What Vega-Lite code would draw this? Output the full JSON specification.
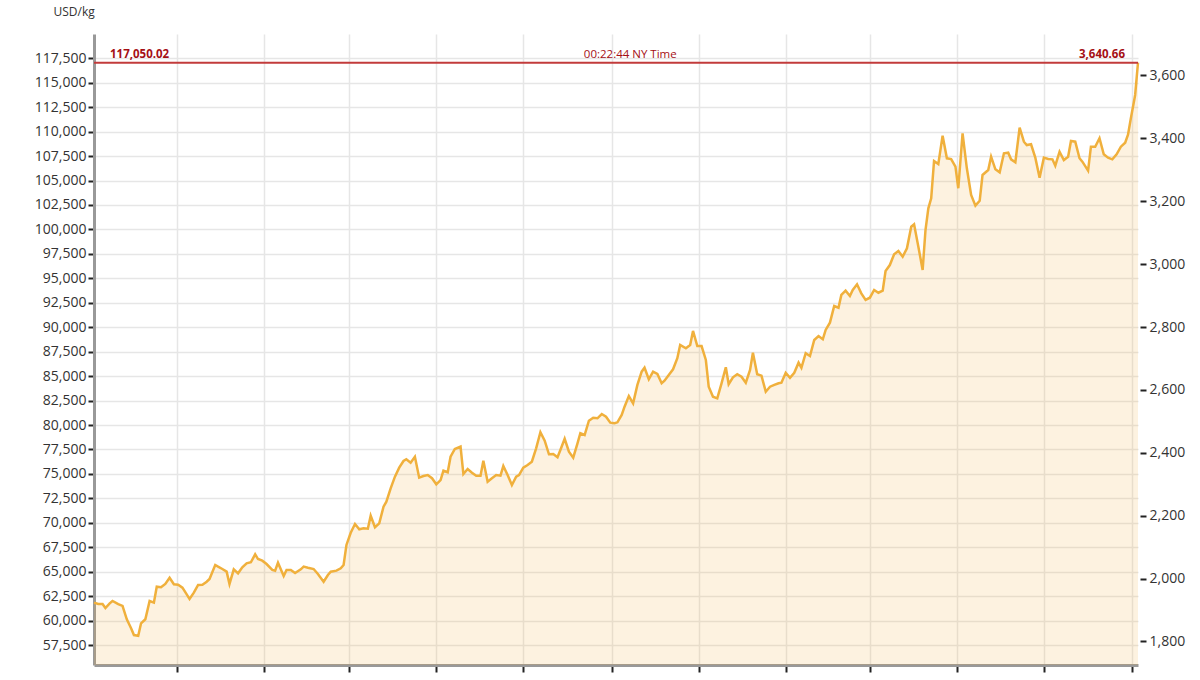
{
  "$schema": "https://vega.github.io/schema/vega-lite/v6.json",
  "width": 1044,
  "height": 631,
  "autosize": {"type": "none"},
  "padding": {"left": 94, "top": 34, "right": 62, "bottom": 15},
  "background": "white",
  "config": {
    "view": {"stroke": null},
    "font": "Open Sans",
    "axis": {"labelFont": "Open Sans", "titleFont": "Open Sans"}
  },
  "datasets": {
    "gold": [
      {"date": "2023-09-04", "price": 61840}, {"date": "2023-09-07", "price": 61700}, {"date": "2023-09-10", "price": 61700},
      {"date": "2023-09-12", "price": 61290}, {"date": "2023-09-15", "price": 61770}, {"date": "2023-09-17", "price": 62010},
      {"date": "2023-09-21", "price": 61700}, {"date": "2023-09-24", "price": 61500}, {"date": "2023-09-27", "price": 60140},
      {"date": "2023-09-30", "price": 59220}, {"date": "2023-10-02", "price": 58530}, {"date": "2023-10-05", "price": 58460},
      {"date": "2023-10-07", "price": 59730}, {"date": "2023-10-10", "price": 60140}, {"date": "2023-10-13", "price": 62010},
      {"date": "2023-10-16", "price": 61840}, {"date": "2023-10-18", "price": 63470}, {"date": "2023-10-21", "price": 63410},
      {"date": "2023-10-24", "price": 63750}, {"date": "2023-10-27", "price": 64390}, {"date": "2023-10-30", "price": 63720},
      {"date": "2023-11-02", "price": 63680}, {"date": "2023-11-05", "price": 63370}, {"date": "2023-11-08", "price": 62690},
      {"date": "2023-11-10", "price": 62210}, {"date": "2023-11-13", "price": 62860}, {"date": "2023-11-16", "price": 63650},
      {"date": "2023-11-19", "price": 63680}, {"date": "2023-11-22", "price": 63980}, {"date": "2023-11-24", "price": 64260},
      {"date": "2023-11-28", "price": 65690}, {"date": "2023-11-30", "price": 65520}, {"date": "2023-12-03", "price": 65280},
      {"date": "2023-12-06", "price": 65010}, {"date": "2023-12-08", "price": 63750}, {"date": "2023-12-11", "price": 65250},
      {"date": "2023-12-14", "price": 64840}, {"date": "2023-12-17", "price": 65460}, {"date": "2023-12-20", "price": 65860},
      {"date": "2023-12-23", "price": 65970}, {"date": "2023-12-26", "price": 66780}, {"date": "2023-12-28", "price": 66300},
      {"date": "2023-12-31", "price": 66130}, {"date": "2024-01-03", "price": 65790}, {"date": "2024-01-07", "price": 65180},
      {"date": "2024-01-09", "price": 65110}, {"date": "2024-01-11", "price": 65930}, {"date": "2024-01-15", "price": 64570},
      {"date": "2024-01-17", "price": 65180}, {"date": "2024-01-20", "price": 65180}, {"date": "2024-01-23", "price": 64870},
      {"date": "2024-01-27", "price": 65250}, {"date": "2024-01-29", "price": 65520}, {"date": "2024-02-01", "price": 65410},
      {"date": "2024-02-05", "price": 65280}, {"date": "2024-02-08", "price": 64770}, {"date": "2024-02-12", "price": 63980},
      {"date": "2024-02-15", "price": 64670}, {"date": "2024-02-17", "price": 65010}, {"date": "2024-02-21", "price": 65110},
      {"date": "2024-02-24", "price": 65350}, {"date": "2024-02-26", "price": 65690}, {"date": "2024-02-28", "price": 67740},
      {"date": "2024-03-02", "price": 68990}, {"date": "2024-03-05", "price": 69880}, {"date": "2024-03-08", "price": 69340},
      {"date": "2024-03-11", "price": 69440}, {"date": "2024-03-14", "price": 69400}, {"date": "2024-03-16", "price": 70730},
      {"date": "2024-03-19", "price": 69550}, {"date": "2024-03-22", "price": 69950}, {"date": "2024-03-25", "price": 71650},
      {"date": "2024-03-27", "price": 72160}, {"date": "2024-03-30", "price": 73530}, {"date": "2024-04-02", "price": 74720},
      {"date": "2024-04-05", "price": 75640}, {"date": "2024-04-08", "price": 76320}, {"date": "2024-04-10", "price": 76500},
      {"date": "2024-04-13", "price": 76150}, {"date": "2024-04-16", "price": 76760}, {"date": "2024-04-19", "price": 74620},
      {"date": "2024-04-22", "price": 74790}, {"date": "2024-04-25", "price": 74890}, {"date": "2024-04-28", "price": 74560},
      {"date": "2024-05-01", "price": 73940}, {"date": "2024-05-04", "price": 74380}, {"date": "2024-05-06", "price": 75330},
      {"date": "2024-05-09", "price": 75170}, {"date": "2024-05-11", "price": 76760}, {"date": "2024-05-14", "price": 77550},
      {"date": "2024-05-18", "price": 77790}, {"date": "2024-05-20", "price": 74990}, {"date": "2024-05-23", "price": 75500},
      {"date": "2024-05-26", "price": 75130}, {"date": "2024-05-29", "price": 74820}, {"date": "2024-06-01", "price": 74820},
      {"date": "2024-06-03", "price": 76350}, {"date": "2024-06-06", "price": 74210}, {"date": "2024-06-09", "price": 74560},
      {"date": "2024-06-12", "price": 74890}, {"date": "2024-06-15", "price": 74820}, {"date": "2024-06-17", "price": 75810},
      {"date": "2024-06-20", "price": 74890}, {"date": "2024-06-23", "price": 73870}, {"date": "2024-06-26", "price": 74720},
      {"date": "2024-06-28", "price": 74890}, {"date": "2024-07-01", "price": 75640}, {"date": "2024-07-04", "price": 75920},
      {"date": "2024-07-07", "price": 76250}, {"date": "2024-07-10", "price": 77620}, {"date": "2024-07-13", "price": 79260},
      {"date": "2024-07-16", "price": 78400}, {"date": "2024-07-19", "price": 77010}, {"date": "2024-07-22", "price": 77040},
      {"date": "2024-07-25", "price": 76700}, {"date": "2024-07-27", "price": 77450}, {"date": "2024-07-30", "price": 78600},
      {"date": "2024-08-02", "price": 77270}, {"date": "2024-08-05", "price": 76660}, {"date": "2024-08-08", "price": 78130},
      {"date": "2024-08-10", "price": 79160}, {"date": "2024-08-13", "price": 78980}, {"date": "2024-08-16", "price": 80440},
      {"date": "2024-08-19", "price": 80750}, {"date": "2024-08-22", "price": 80690}, {"date": "2024-08-25", "price": 81130},
      {"date": "2024-08-28", "price": 80850}, {"date": "2024-08-31", "price": 80240}, {"date": "2024-09-03", "price": 80180},
      {"date": "2024-09-05", "price": 80280}, {"date": "2024-09-08", "price": 81030}, {"date": "2024-09-10", "price": 81880},
      {"date": "2024-09-13", "price": 82970}, {"date": "2024-09-16", "price": 82220}, {"date": "2024-09-19", "price": 84100},
      {"date": "2024-09-22", "price": 85460}, {"date": "2024-09-24", "price": 85860}, {"date": "2024-09-27", "price": 84680},
      {"date": "2024-09-30", "price": 85460}, {"date": "2024-10-03", "price": 85220}, {"date": "2024-10-06", "price": 84270},
      {"date": "2024-10-08", "price": 84540}, {"date": "2024-10-11", "price": 85120}, {"date": "2024-10-14", "price": 85700},
      {"date": "2024-10-17", "price": 86830}, {"date": "2024-10-19", "price": 88190}, {"date": "2024-10-23", "price": 87850},
      {"date": "2024-10-26", "price": 88190}, {"date": "2024-10-28", "price": 89620}, {"date": "2024-10-31", "price": 88080},
      {"date": "2024-11-03", "price": 88080}, {"date": "2024-11-06", "price": 86650}, {"date": "2024-11-08", "price": 83920},
      {"date": "2024-11-11", "price": 82900}, {"date": "2024-11-14", "price": 82730}, {"date": "2024-11-17", "price": 84270},
      {"date": "2024-11-20", "price": 85910}, {"date": "2024-11-22", "price": 84170}, {"date": "2024-11-25", "price": 84880},
      {"date": "2024-11-28", "price": 85190}, {"date": "2024-12-01", "price": 84940}, {"date": "2024-12-04", "price": 84330},
      {"date": "2024-12-07", "price": 85630}, {"date": "2024-12-09", "price": 87400}, {"date": "2024-12-12", "price": 85190},
      {"date": "2024-12-15", "price": 85050}, {"date": "2024-12-18", "price": 83410}, {"date": "2024-12-21", "price": 83920},
      {"date": "2024-12-24", "price": 84100}, {"date": "2024-12-27", "price": 84270}, {"date": "2024-12-29", "price": 84330},
      {"date": "2025-01-01", "price": 85350}, {"date": "2025-01-04", "price": 84840}, {"date": "2025-01-07", "price": 85350},
      {"date": "2025-01-10", "price": 86380}, {"date": "2025-01-12", "price": 85860}, {"date": "2025-01-15", "price": 87340},
      {"date": "2025-01-18", "price": 87060}, {"date": "2025-01-21", "price": 88700}, {"date": "2025-01-24", "price": 89100},
      {"date": "2025-01-27", "price": 88770}, {"date": "2025-01-29", "price": 89720}, {"date": "2025-02-01", "price": 90470},
      {"date": "2025-02-04", "price": 92170}, {"date": "2025-02-07", "price": 92000}, {"date": "2025-02-09", "price": 93300},
      {"date": "2025-02-12", "price": 93740}, {"date": "2025-02-15", "price": 93200}, {"date": "2025-02-17", "price": 93810},
      {"date": "2025-02-20", "price": 94390}, {"date": "2025-02-23", "price": 93470}, {"date": "2025-02-26", "price": 92790},
      {"date": "2025-03-01", "price": 93020}, {"date": "2025-03-04", "price": 93810}, {"date": "2025-03-07", "price": 93530},
      {"date": "2025-03-10", "price": 93740}, {"date": "2025-03-12", "price": 95750}, {"date": "2025-03-15", "price": 96360},
      {"date": "2025-03-18", "price": 97460}, {"date": "2025-03-21", "price": 97800}, {"date": "2025-03-24", "price": 97210},
      {"date": "2025-03-27", "price": 98070}, {"date": "2025-03-30", "price": 100280}, {"date": "2025-04-01", "price": 100530},
      {"date": "2025-04-04", "price": 98240}, {"date": "2025-04-07", "price": 95850}, {"date": "2025-04-09", "price": 99940},
      {"date": "2025-04-11", "price": 102160}, {"date": "2025-04-13", "price": 103180}, {"date": "2025-04-15", "price": 107000},
      {"date": "2025-04-18", "price": 106690}, {"date": "2025-04-21", "price": 109590}, {"date": "2025-04-24", "price": 107270},
      {"date": "2025-04-27", "price": 107200}, {"date": "2025-04-30", "price": 106420}, {"date": "2025-05-02", "price": 104210},
      {"date": "2025-05-05", "price": 109830}, {"date": "2025-05-08", "price": 106250}, {"date": "2025-05-11", "price": 103520},
      {"date": "2025-05-14", "price": 102430}, {"date": "2025-05-17", "price": 102940}, {"date": "2025-05-19", "price": 105570},
      {"date": "2025-05-23", "price": 106080}, {"date": "2025-05-25", "price": 107440}, {"date": "2025-05-28", "price": 106150},
      {"date": "2025-05-31", "price": 105840}, {"date": "2025-06-03", "price": 107790}, {"date": "2025-06-06", "price": 107850},
      {"date": "2025-06-08", "price": 107170}, {"date": "2025-06-11", "price": 106870}, {"date": "2025-06-14", "price": 110400},
      {"date": "2025-06-17", "price": 108970}, {"date": "2025-06-19", "price": 108630}, {"date": "2025-06-22", "price": 108710},
      {"date": "2025-06-25", "price": 107340}, {"date": "2025-06-28", "price": 105290}, {"date": "2025-07-01", "price": 107340},
      {"date": "2025-07-04", "price": 107200}, {"date": "2025-07-07", "price": 107170}, {"date": "2025-07-09", "price": 106520},
      {"date": "2025-07-12", "price": 107950}, {"date": "2025-07-15", "price": 107100}, {"date": "2025-07-18", "price": 107440},
      {"date": "2025-07-20", "price": 109040}, {"date": "2025-07-23", "price": 108970}, {"date": "2025-07-26", "price": 107280},
      {"date": "2025-07-28", "price": 106930}, {"date": "2025-08-01", "price": 106010}, {"date": "2025-08-03", "price": 108460},
      {"date": "2025-08-06", "price": 108460}, {"date": "2025-08-09", "price": 109320}, {"date": "2025-08-12", "price": 107680},
      {"date": "2025-08-15", "price": 107340}, {"date": "2025-08-18", "price": 107170}, {"date": "2025-08-21", "price": 107680},
      {"date": "2025-08-24", "price": 108460}, {"date": "2025-08-27", "price": 108870}, {"date": "2025-08-29", "price": 109690},
      {"date": "2025-08-31", "price": 111370}, {"date": "2025-09-03", "price": 113750}, {"date": "2025-09-05", "price": 117050.02}
    ]
  },
  "layer": [
    {
      "encoding": {
        "x": {
          "field": "date",
          "type": "temporal",
          "title": null,
          "scale": {
            "type": "utc",
            "domain": [
              {"year": 2023, "month": 9, "date": 4, "utc": true},
              {"year": 2025, "month": 9, "date": 5, "utc": true}
            ]
          },
          "axis": {
            "values": [
              {"year": 2023, "month": 11, "date": 1, "utc": true},
              {"year": 2024, "month": 1, "date": 1, "utc": true},
              {"year": 2024, "month": 3, "date": 1, "utc": true},
              {"year": 2024, "month": 5, "date": 1, "utc": true},
              {"year": 2024, "month": 7, "date": 1, "utc": true},
              {"year": 2024, "month": 9, "date": 1, "utc": true},
              {"year": 2024, "month": 11, "date": 1, "utc": true},
              {"year": 2025, "month": 1, "date": 1, "utc": true},
              {"year": 2025, "month": 3, "date": 1, "utc": true},
              {"year": 2025, "month": 5, "date": 1, "utc": true},
              {"year": 2025, "month": 7, "date": 1, "utc": true},
              {"year": 2025, "month": 9, "date": 1, "utc": true}
            ],
            "labels": false,
            "grid": true,
            "gridColor": "#e6e6e6",
            "gridWidth": 1.5,
            "domainColor": "#999999",
            "domainWidth": 3,
            "tickColor": "#222222",
            "tickSize": 7,
            "tickWidth": 2
          }
        },
        "y": {
          "field": "price",
          "type": "quantitative",
          "scale": {"domain": [55465, 119984], "zero": false, "nice": false},
          "axis": {
            "values": [57500, 60000, 62500, 65000, 67500, 70000, 72500, 75000, 77500, 80000, 82500, 85000, 87500, 90000, 92500, 95000, 97500, 100000, 102500, 105000, 107500, 110000, 112500, 115000, 117500],
            "format": ",.0f",
            "title": "USD/kg",
            "titleAngle": 0,
            "titleX": -41,
            "titleY": -23,
            "titleAlign": "left",
            "titleBaseline": "middle",
            "titleFontSize": 12,
            "titleFontWeight": "normal",
            "titleColor": "#333333",
            "labelFontSize": 14,
            "labelColor": "#333333",
            "labelPadding": 2,
            "grid": true,
            "gridColor": "#e6e6e6",
            "gridWidth": 1.5,
            "domainColor": "#999999",
            "domainWidth": 3,
            "tickColor": "#222222",
            "tickSize": 6,
            "tickWidth": 2
          }
        }
      },
      "layer": [
        {
          "data": {"name": "gold"},
          "mark": {"type": "area", "color": "#f5b041", "fillOpacity": 0.16, "clip": true}
        },
        {
          "data": {"name": "gold"},
          "mark": {"type": "line", "color": "#f0b03c", "strokeWidth": 2.5}
        },
        {
          "data": {"values": [{"date": "2023-09-04", "date2": "2025-09-05", "price": 117050.02}]},
          "mark": {"type": "rule", "color": "#c23b3b", "strokeWidth": 2},
          "encoding": {"x2": {"field": "date2"}}
        },
        {
          "data": {"values": [{"date": "2023-09-04", "price": 117050.02, "label": "117,050.02"}]},
          "mark": {"type": "text", "align": "left", "baseline": "alphabetic", "dx": 16, "dy": -5, "font": "Open Sans", "fontSize": 11.5, "fontWeight": "bold", "color": "#a50f15"},
          "encoding": {"text": {"field": "label"}}
        },
        {
          "data": {"values": [{"date": "2024-09-14", "price": 117050.02, "label": "00:22:44 NY Time"}]},
          "mark": {"type": "text", "align": "center", "baseline": "alphabetic", "dy": -5, "font": "Open Sans", "fontSize": 11.5, "fontWeight": "normal", "color": "#a50f15"},
          "encoding": {"text": {"field": "label"}}
        },
        {
          "data": {"values": [{"date": "2025-09-05", "price": 117050.02, "label": "3,640.66"}]},
          "mark": {"type": "text", "align": "right", "baseline": "alphabetic", "dx": -13, "dy": -5, "font": "Open Sans", "fontSize": 11.5, "fontWeight": "bold", "color": "#a50f15"},
          "encoding": {"text": {"field": "label"}}
        }
      ]
    },
    {
      "data": {"values": [{"usd_oz": 3640.66}]},
      "mark": {"type": "rule", "opacity": 0},
      "encoding": {
        "y": {
          "field": "usd_oz",
          "type": "quantitative",
          "scale": {"domain": [1725.2, 3731.9], "zero": false, "nice": false},
          "axis": {
            "orient": "right",
            "values": [1800, 2000, 2200, 2400, 2600, 2800, 3000, 3200, 3400, 3600],
            "format": ",.0f",
            "title": null,
            "grid": false,
            "domain": false,
            "offset": 2,
            "labelFontSize": 14,
            "labelColor": "#333333",
            "labelPadding": 3,
            "tickColor": "#222222",
            "tickSize": 6,
            "tickWidth": 2
          }
        }
      }
    }
  ],
  "resolve": {"scale": {"y": "independent"}}
}
